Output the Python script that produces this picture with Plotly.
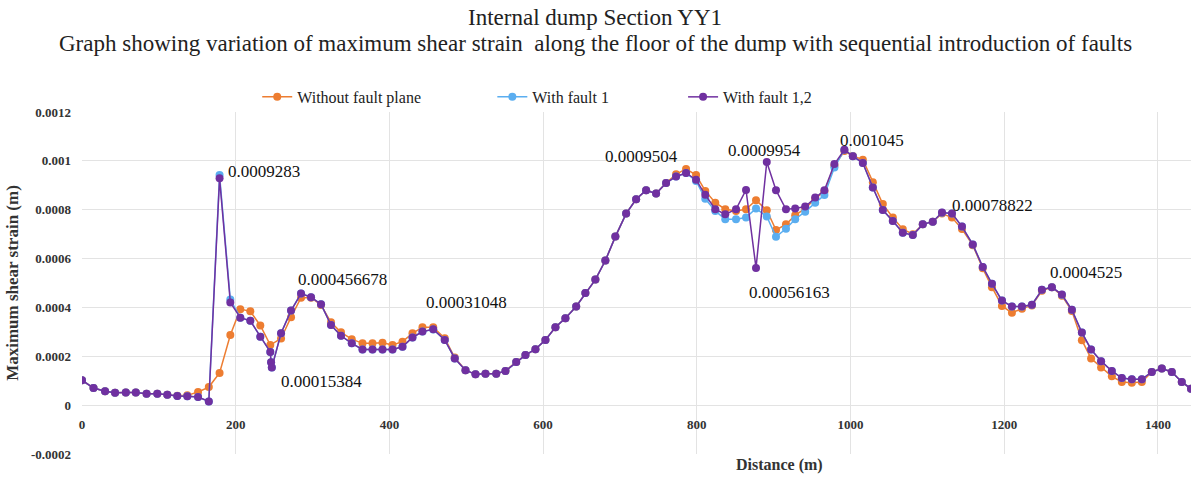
import plotly.graph_objects as go

# Distance along the dump floor (m); three nodes share the fault location near 246 m
distance = [
    0, 15, 30, 43, 57, 70, 84, 98, 111, 124, 137, 151, 165, 179, 193, 206, 219, 232,
    245, 246, 247, 259, 272, 285, 298, 311, 324, 337, 351, 365, 378, 391, 404, 417,
    430, 443, 457, 472, 485, 499, 512, 525, 539, 551, 565, 577, 590, 603, 616, 629,
    643, 655, 668, 681, 694, 708, 721, 734, 747, 760, 773, 786, 799, 811, 824, 837,
    851, 864, 877, 891, 903, 916, 928, 941, 954, 966, 979, 992, 1003, 1016, 1029,
    1042, 1055, 1068, 1081, 1094, 1107, 1119, 1132, 1145, 1159, 1172, 1184, 1197,
    1210, 1223, 1236, 1249, 1262, 1275, 1288, 1301, 1313, 1326, 1340, 1353, 1366,
    1379, 1392, 1405, 1418, 1431, 1443,
]

# Maximum shear strain, no fault plane
without_fault = [
    0.000102, 0.000070, 0.000057, 0.000051, 0.000052, 0.000052, 0.000047, 0.000047,
    0.000043, 0.000038, 0.000040, 0.000054, 0.000074, 0.000132, 0.000287, 0.000393,
    0.000384, 0.000326, 0.000246, None, None, 0.000273, 0.000360, 0.000440, 0.000440,
    0.000410, 0.000339, 0.000298, 0.000270, 0.000253, 0.000253, 0.000255, 0.000246,
    0.000260, 0.000294, 0.000319, 0.000319, 0.000274, 0.000195, 0.000143, 0.000126,
    0.000129, 0.000129, 0.000140, 0.000177, 0.000205, 0.000229, 0.000267, 0.000319,
    0.000356, 0.000404, 0.000459, 0.000514, 0.000592, 0.000690, 0.000784, 0.000843,
    0.000880, 0.000866, 0.000909, 0.000945, 0.000967, 0.000942, 0.000877, 0.000829,
    0.000802, 0.000795, 0.000802, 0.000839, 0.000798, 0.000717, 0.000740, 0.000777,
    0.000805, 0.000845, 0.000875, 0.000980, 0.001040, 0.001020, 0.001005, 0.000912,
    0.000823, 0.000768, 0.000720, 0.000700, 0.000740, 0.000751, 0.000784, 0.000768,
    0.000721, 0.000655, 0.000560, 0.000483, 0.000406, 0.000378, 0.000395, 0.000408,
    0.000468, 0.000483, 0.000448, 0.000385, 0.000266, 0.000191, 0.000154, 0.000118,
    0.000095, 0.000092, 0.000095, 0.000136, 0.000150, 0.000136, 0.000095, 0.000067,
]

# Maximum shear strain, fault 1 introduced
with_fault_1 = [
    0.000102, 0.000070, 0.000057, 0.000051, 0.000052, 0.000052, 0.000047, 0.000047,
    0.000043, 0.000037, 0.000036, 0.000033, 0.000015, 0.000942, 0.000432, 0.000358,
    0.000345, 0.000280, 0.000218, 0.000176, 0.000154, 0.000294, 0.000387, 0.000457,
    0.000442, 0.000413, 0.000328, 0.000284, 0.000253, 0.000228, 0.000228, 0.000228,
    0.000228, 0.000239, 0.000277, 0.000301, 0.000310, 0.000267, 0.000191, 0.000143,
    0.000126, 0.000129, 0.000129, 0.000140, 0.000177, 0.000205, 0.000229, 0.000267,
    0.000319, 0.000356, 0.000404, 0.000459, 0.000514, 0.000592, 0.000690, 0.000784,
    0.000843, 0.000880, 0.000866, 0.000909, 0.000936, 0.000950, 0.000918, 0.000845,
    0.000795, 0.000761, 0.000761, 0.000768, 0.000805, 0.000772, 0.000689, 0.000722,
    0.000761, 0.000792, 0.000828, 0.000860, 0.000973, 0.001045, 0.001019, 0.000991,
    0.000891, 0.000799, 0.000754, 0.000706, 0.000696, 0.000740, 0.000751, 0.000788,
    0.000785, 0.000731, 0.000658, 0.000566, 0.000497, 0.000428, 0.000404, 0.000404,
    0.000411, 0.000472, 0.000483, 0.000452, 0.000390, 0.000297, 0.000228, 0.000180,
    0.000140, 0.000111, 0.000106, 0.000106, 0.000136, 0.000150, 0.000136, 0.000095,
    0.000067,
]

# Maximum shear strain, faults 1 and 2 introduced
with_fault_1_2 = [
    0.000102, 0.000070, 0.000057, 0.000051, 0.000052, 0.000052, 0.000047, 0.000047,
    0.000043, 0.000037, 0.000036, 0.000033, 0.000015, 0.0009283, 0.000420, 0.000358,
    0.000345, 0.000280, 0.000218, 0.000176, 0.00015384, 0.000294, 0.000387, 0.000456678,
    0.000442, 0.000413, 0.000328, 0.000284, 0.000253, 0.000228, 0.000228, 0.000228,
    0.000228, 0.000239, 0.000277, 0.000301, 0.00031048, 0.000267, 0.000191, 0.000143,
    0.000126, 0.000129, 0.000129, 0.000140, 0.000177, 0.000205, 0.000229, 0.000267,
    0.000319, 0.000356, 0.000404, 0.000459, 0.000514, 0.000592, 0.000690, 0.000784,
    0.000843, 0.000880, 0.000866, 0.000909, 0.000936, 0.0009504, 0.000923, 0.000861,
    0.000802, 0.000781, 0.000802, 0.000881, 0.00056163, 0.0009954, 0.000880, 0.000802,
    0.000805, 0.000813, 0.000850, 0.000880, 0.000987, 0.001045, 0.001019, 0.000991,
    0.000891, 0.000799, 0.000754, 0.000706, 0.000696, 0.000740, 0.000751, 0.00078822,
    0.000785, 0.000731, 0.000658, 0.000566, 0.000497, 0.000428, 0.000404, 0.000404,
    0.000411, 0.000472, 0.000483, 0.0004525, 0.000390, 0.000297, 0.000228, 0.000180,
    0.000140, 0.000111, 0.000106, 0.000106, 0.000136, 0.000150, 0.000136, 0.000095,
    0.000067,
]

series_names = ["Without fault plane", "With fault 1", "With fault 1,2"]
series_colors = ["#ED7D31", "#5BAEF0", "#7030A0"]

title_text = "Internal dump Section YY1"
subtitle_text = ("Graph showing variation of maximum shear strain&nbsp; along the floor "
                 "of the dump with sequential introduction of faults")

y_tick_values = [-0.0002, 0, 0.0002, 0.0004, 0.0006, 0.0008, 0.001, 0.0012]
y_tick_text = ["-0.0002", "0", "0.0002", "0.0004", "0.0006", "0.0008", "0.001", "0.0012"]
x_tick_values = [0, 200, 400, 600, 800, 1000, 1200, 1400]

# Labelled points on the "With fault 1,2" curve: (distance, xanchor, xshift, yshift)
labelled = [
    (179, "left", 6, 7),
    (285, "left", -5, 14),
    (247, "left", 7, -14),
    (457, "left", -9, 27),
    (786, "right", -6, 16),
    (891, "center", -2, 11),
    (877, "left", -9, -25),
    (992, "left", -6, 9),
    (1119, "left", 8, 7),
    (1275, "left", -14, 22),
]

SERIF = "Times New Roman, Liberation Serif, serif"

fig = go.Figure()
legend_ids = ["legend", "legend2", "legend3"]
for name, color, values, leg in zip(series_names, series_colors,
                                    [without_fault, with_fault_1, with_fault_1_2], legend_ids):
    fig.add_trace(go.Scatter(
        x=distance, y=values, name=name, mode="lines+markers",
        line=dict(color=color, width=1.5),
        marker=dict(color=color, size=8),
        connectgaps=True, legend=leg, showlegend=True,
    ))

for dist, xa, xs, ys in labelled:
    idx = distance.index(dist)
    val = with_fault_1_2[idx]
    fig.add_annotation(
        x=dist, y=val, xref="x", yref="y", text=f"{val:.10g}",
        showarrow=False, xanchor=xa, yanchor="middle", xshift=xs, yshift=ys,
        font=dict(family=SERIF, size=17, color="#111111"),
    )

# Two-line heading, centred on the page
fig.add_annotation(
    x=0.463, y=1.275, xref="paper", yref="paper", text=title_text,
    showarrow=False, xanchor="center", yanchor="middle",
    font=dict(family=SERIF, size=23, color="#222222"),
)
fig.add_annotation(
    x=0.463, y=1.199, xref="paper", yref="paper", text=subtitle_text,
    showarrow=False, xanchor="center", yanchor="middle",
    font=dict(family=SERIF, size=23, color="#222222"),
)

fig.add_annotation(
    x=0.629, y=-0.032, xref="paper", yref="paper", text="<b>Distance (m)</b>",
    showarrow=False, xanchor="center", yanchor="middle",
    font=dict(family=SERIF, size=16, color="#333333"),
)

legend_style = dict(orientation="h", yanchor="middle", y=1.044, xanchor="left",
                    font=dict(family=SERIF, size=16, color="#222222"),
                    bgcolor="rgba(0,0,0,0)")
fig.update_layout(
    width=1191, height=481,
    margin=dict(l=82, r=0, t=112, b=27),
    paper_bgcolor="white", plot_bgcolor="white",
    showlegend=True,
    legend=dict(x=0.158, **legend_style),
    legend2=dict(x=0.370, **legend_style),
    legend3=dict(x=0.542, **legend_style),
    xaxis=dict(
        range=[0, 1443], tickvals=x_tick_values, showgrid=True, gridcolor="#e3e3e3",
        gridwidth=1, zeroline=False, showline=False, anchor="free", position=0.1433,
        ticklabelstandoff=10,
        tickfont=dict(family=SERIF, size=13, color="#333333", weight="bold"),
    ),
    yaxis=dict(
        range=[-0.0002, 0.0012], tickvals=y_tick_values, ticktext=y_tick_text,
        showgrid=True, gridcolor="#e3e3e3", gridwidth=1, zeroline=False, showline=False,
        ticklabelstandoff=10,
        tickfont=dict(family=SERIF, size=13, color="#333333", weight="bold"),
        title=dict(text="<b>Maximum shear strain (m)</b>", standoff=7,
                   font=dict(family=SERIF, size=17, color="#333333")),
    ),
)

fig.write_html("out.html")
